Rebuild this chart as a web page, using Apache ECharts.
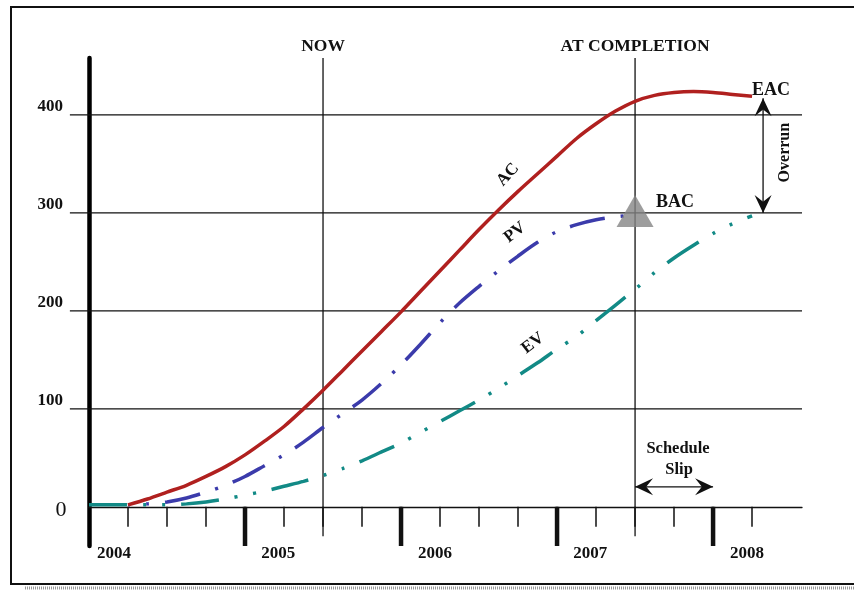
<!DOCTYPE html>
<html>
<head>
<meta charset="utf-8">
<title>Earned value</title>
<script src="https://cdn.jsdelivr.net/npm/echarts@6/dist/echarts.min.js"></script>
<style>
html, body { margin: 0; padding: 0; background: #fff; }
#main { width: 854px; height: 590px; }
</style>
</head>
<body>
<div id="main"></div>
<script>
// x = quarters since start of 2004, y = cost
var quarters = [0, 0.5, 1, 1.5, 2, 2.5, 3, 3.5, 4, 4.5, 5, 5.5, 6, 6.5, 7, 7.5, 8, 8.5,
                9, 9.5, 10, 10.5, 11, 11.5, 12, 12.5, 13, 13.5, 14, 14.5, 15, 15.5, 16, 16.5, 17];
var acValues = [null, null, 2, 8, 15, 22, 31, 41, 53, 67, 82, 100, 119, 139, 159, 179, 199, 220,
                241, 262, 283, 303, 322, 340, 358, 376, 391, 404, 414, 420, 423, 424, 423, 421, 419];
var pvValues = [null, null, 2, 3, 5, 9, 15, 22, 31, 42, 53, 66, 81, 95, 109, 126, 145, 166,
                188, 208, 225, 241, 256, 270, 281, 288, 293, 296, 298, null, null, null, null, null, null];
var evValues = [2, 2, 2, 2, 2, 3, 5, 8, 12, 16, 21, 26, 32, 39, 47, 56, 65, 76,
                87, 98, 109, 121, 134, 147, 161, 174, 190, 206, 222, 239, 254, 267, 279, 289, 297];

var bacPoint = [14, 300];
var eacValue = 419;
var nowQuarter = 6;
var completionQuarter = 14;
var slipEndQuarter = 16;

var valueLevels = [0, 100, 200, 300, 400];
var valueLabels = ['0', '100', '200', '300', '400'];
var minorTicks = [1, 2, 3, 4, 5, 6, 7, 8, 9, 10, 11, 12, 13, 14, 15, 16, 17];
var yearTicks = [4, 8, 12, 16];
var yearLabels = ['2004', '2005', '2006', '2007', '2008'];
var yearLabelPos = [0.64, 4.85, 8.87, 12.85, 16.87];

var xMin = 0, xMax = 18.28;
var yMin = -40, yMax = 458.16;

var serif = '"Liberation Serif", "Times New Roman", serif';
var ink = '#111';

function pairs(vals) {
    var out = [];
    for (var i = 0; i < quarters.length; i++) {
        out.push([quarters[i], vals[i]]);
    }
    return out;
}

// barbed arrow head, tip at (x,y), pointing along (dx,dy)
function arrowHead(x, y, dx, dy) {
    var L = 18, W = 17;
    var px = -dy, py = dx;
    return {
        type: 'polygon',
        shape: { points: [
            [x, y],
            [x - dx * L + px * W / 2, y - dy * L + py * W / 2],
            [x - dx * L * 0.62, y - dy * L * 0.62],
            [x - dx * L - px * W / 2, y - dy * L - py * W / 2]
        ] },
        style: { fill: ink }
    };
}

function txt(x, y, s, font, align, rot) {
    return {
        type: 'text', x: x, y: y, rotation: rot || 0,
        style: { text: s, font: font, fill: ink, align: align || 'center', verticalAlign: 'middle' }
    };
}

function line(a, b, w) {
    return {
        type: 'line',
        shape: { x1: a[0], y1: a[1], x2: b[0], y2: b[1] },
        style: { stroke: ink, lineWidth: w }
    };
}

function renderNotes(params, api) {
    var c = [];
    var f17 = 'bold 17px ' + serif;

    // horizontal grid lines + value labels
    for (var i = 0; i < valueLevels.length; i++) {
        var p0 = api.coord([0, valueLevels[i]]);
        if (valueLevels[i] > 0) {
            c.push(line(api.coord([-0.49, valueLevels[i]]), api.coord([xMax, valueLevels[i]]), 1.3));
            c.push(txt(p0[0] - 26, p0[1] - 8, valueLabels[i], f17, 'right'));
        } else {
            c.push(txt(p0[0] - 28, p0[1] + 3, valueLabels[i], '22px ' + serif, 'center'));
        }
    }

    // year ticks + labels
    for (var j = 0; j < yearTicks.length; j++) {
        c.push(line(api.coord([yearTicks[j], 0]), api.coord([yearTicks[j], yMin]), 4.5));
    }
    for (var k = 0; k < yearLabels.length; k++) {
        var py = api.coord([yearLabelPos[k], 0]);
        c.push(txt(py[0], py[1] + 47, yearLabels[k], f17));
    }

    // NOW / AT COMPLETION
    var nT = api.coord([nowQuarter, yMax]), nB = api.coord([nowQuarter, -30]);
    c.push(line(nT, nB, 1.3));
    c.push(txt(nT[0], nT[1] - 12, 'NOW', 'bold 17.5px ' + serif));
    var cT = api.coord([completionQuarter, yMax]), cB = api.coord([completionQuarter, -30]);
    c.push(line(cT, cB, 1.3));
    c.push(txt(cT[0], cT[1] - 12, 'AT COMPLETION', 'bold 17.5px ' + serif));

    // BAC / EAC
    var bac = api.coord(bacPoint);
    c.push(txt(bac[0] + 40, bac[1] - 11, 'BAC', 'bold 18px ' + serif));
    var eac = api.coord([17, eacValue]);
    c.push(txt(eac[0], eac[1] - 6, 'EAC', 'bold 18px ' + serif, 'left'));

    // overrun arrow
    var oTop = [eac[0] + 11, eac[1] + 2];
    var oBot = [eac[0] + 11, api.coord([17, bacPoint[1]])[1]];
    c.push(line(oTop, oBot, 1.3));
    c.push(arrowHead(oTop[0], oTop[1], 0, -1));
    c.push(arrowHead(oBot[0], oBot[1], 0, 1));
    c.push(txt(oTop[0] + 22, (oTop[1] + oBot[1]) / 2 - 3, 'Overrun', 'bold 16px ' + serif, 'center', Math.PI / 2));

    // schedule slip arrow
    var s0 = api.coord([completionQuarter, 0]), s1 = api.coord([slipEndQuarter, 0]);
    var sy = s0[1] - 20;
    c.push(line([s0[0], sy], [s1[0], sy], 1.3));
    c.push(arrowHead(s0[0], sy, -1, 0));
    c.push(arrowHead(s1[0], sy, 1, 0));
    var mid = (s0[0] + s1[0]) / 2;
    c.push(txt(mid + 4, sy - 38, 'Schedule', 'bold 16.5px ' + serif));
    c.push(txt(mid + 5, sy - 17, 'Slip', 'bold 16.5px ' + serif));

    // curve names
    var pa = api.coord([10.74, 339]), pp = api.coord([10.92, 280]), pe = api.coord([11.38, 167]);
    c.push(txt(pa[0], pa[1], 'AC', f17, 'center', 0.84));
    c.push(txt(pp[0], pp[1], 'PV', f17, 'center', 0.66));
    c.push(txt(pe[0], pe[1], 'EV', f17, 'center', 0.66));

    return { type: 'group', children: c };
}

var myChart = echarts.init(document.getElementById('main'));

var option = {
    backgroundColor: '#fff',
    animation: false,
    graphic: [
        { type: 'rect', z: -10, shape: { x: 11, y: 7, width: 880, height: 577 },
          style: { fill: 'none', stroke: ink, lineWidth: 2 } },
        { type: 'line', z: -10, shape: { x1: 25, y1: 588, x2: 854, y2: 588 },
          style: { stroke: '#9a9a9a', lineWidth: 3, lineDash: [1, 1] } }
    ],
    grid: { left: 89, right: 52, top: 58, bottom: 44 },
    xAxis: {
        type: 'value', min: xMin, max: xMax,
        axisLine: { onZero: true, lineStyle: { color: ink, width: 1.3 } },
        axisTick: { show: true, customValues: minorTicks, length: 20, lineStyle: { color: ink, width: 1.5 } },
        axisLabel: { show: false },
        splitLine: { show: false }
    },
    yAxis: {
        type: 'value', min: yMin, max: yMax,
        axisLine: { show: true, lineStyle: { color: '#000', width: 4.5 } },
        axisTick: { show: false },
        axisLabel: { show: false },
        splitLine: { show: false }
    },
    series: [
        {
            type: 'custom',
            renderItem: renderNotes,
            data: [[0, 0]],
            silent: true,
            z: 1
        },
        {
            name: 'EV', type: 'line', data: pairs(evValues),
            smooth: 0.3, symbol: 'none', z: 3,
            lineStyle: { color: '#128a86', width: 3.5, type: [38, 16, 3, 16, 3, 16] }
        },
        {
            name: 'PV', type: 'line', data: pairs(pvValues),
            smooth: 0.3, symbol: 'none', z: 4,
            lineStyle: { color: '#3b3bab', width: 3.5, type: [36, 16, 3, 16], dashOffset: 34 }
        },
        {
            name: 'AC', type: 'line', data: pairs(acValues),
            smooth: 0.3, symbol: 'none', z: 5,
            lineStyle: { color: '#b0201f', width: 3.5 }
        },
        {
            name: 'BAC', type: 'scatter', data: [bacPoint],
            symbol: 'triangle', symbolSize: [37, 32], symbolOffset: [0, -2],
            itemStyle: { color: '#858585' }, z: 6
        }
    ]
};
myChart.setOption(option);
</script>
</body>
</html>
